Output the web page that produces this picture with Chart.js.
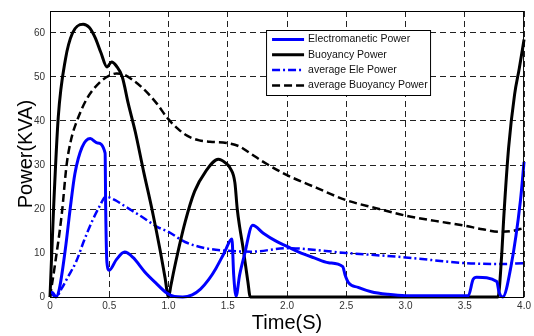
<!DOCTYPE html>
<html>
<head>
<meta charset="utf-8">
<script src="https://cdn.jsdelivr.net/npm/chart.js@4"></script>
<style>
  html, body { margin: 0; padding: 0; background: #fff; }
</style>
</head>
<body>
<canvas id="powerChart" width="534" height="336"></canvas>
<script>
// Electromagnetic power (solid blue)
const eleTime = [0, 0.02, 0.05, 0.08, 0.13, 0.17, 0.21, 0.27, 0.34, 0.40, 0.465, 0.47, 0.48, 0.50, 0.56, 0.63, 0.70, 0.80, 0.90, 0.985, 1.05, 1.12, 1.2, 1.27, 1.34, 1.40, 1.47, 1.535, 1.55, 1.57, 1.6, 1.64, 1.71, 1.8, 1.9, 2.0, 2.1, 2.23, 2.35, 2.47, 2.49, 2.52, 2.6, 2.71, 2.85, 3.0, 3.53, 3.57, 3.6, 3.77, 3.79, 3.82, 3.89, 3.97, 4.0];
const elePower = [1, 1, 0, 2, 11, 20, 28, 34, 36, 35, 32.7, 20, 8, 6.1, 8.5, 10.2, 9, 5.7, 3, 0.9, 0.1, 0, 0.5, 1.8, 4, 6.5, 10, 13.2, 5, 0.2, 5, 9.5, 16.3, 14.5, 12.8, 11.5, 10.2, 8.9, 7.8, 6.9, 5, 3.2, 2.2, 1.2, 0.6, 0.3, 0.3, 4, 4.5, 3.5, 1, 0, 7, 22, 30.7];

// Buoyancy power (solid black)
const buoyTime = [0, 0.03, 0.07, 0.13, 0.19, 0.28, 0.33, 0.38, 0.43, 0.48, 0.52, 0.56, 0.61, 0.66, 0.72, 0.79, 0.86, 0.93, 0.97, 1.0, 1.02, 1.05, 1.14, 1.22, 1.31, 1.42, 1.48, 1.52, 1.56, 1.58, 1.6, 1.63, 1.67, 1.69, 3.78, 3.81, 3.83, 3.87, 3.92, 3.96, 4.0];
const buoyPower = [0, 20, 41, 54, 60, 62, 61.3, 59, 55.5, 52.3, 53.4, 52.5, 50, 44, 37.5, 28.5, 20, 10.5, 4.5, 0, 2.6, 6.6, 17, 24, 28.4, 31.3, 30.5, 29.3, 26, 20, 16, 11, 3.4, 0, 0, 9, 18.6, 34, 46, 52, 58.5];

// average Ele power (blue dash-dot)
const avgEleTime = [0, 0.05, 0.1, 0.15, 0.22, 0.29, 0.36, 0.42, 0.47, 0.55, 0.61, 0.7, 0.8, 0.9, 1.0, 1.14, 1.31, 1.5, 1.7, 2.0, 2.5, 3.0, 3.5, 3.8, 4.0];
const avgElePower = [1, 0, 2, 4.5, 8, 13, 17.5, 20.7, 22.8, 22, 21, 19.5, 17.8, 16, 14.8, 12.5, 11.1, 10.5, 10.3, 11.1, 10, 9, 7.7, 7.5, 7.7];

// average Buoyancy power (black dashed)
const avgBuoyTime = [0, 0.04, 0.1, 0.14, 0.18, 0.22, 0.31, 0.42, 0.5, 0.56, 0.62, 0.7, 0.8, 0.9, 0.99, 1.08, 1.16, 1.26, 1.35, 1.49, 1.6, 1.67, 1.8, 2.0, 2.25, 2.5, 2.75, 3.0, 3.25, 3.5, 3.65, 3.8, 3.9, 4.0];
const avgBuoyPower = [0, 7, 19, 30, 36, 39.5, 45, 48.8, 50.3, 50.8, 50.6, 49.3, 47, 44, 40.7, 38.2, 36.6, 35.6, 35.3, 35, 34.2, 33, 30.7, 27.7, 24.8, 22, 20.2, 18.5, 17.3, 16.2, 15.4, 14.8, 15, 15.7];

const xTicks = [0, 0.5, 1, 1.5, 2, 2.5, 3, 3.5, 4];
const yTicks = [0, 10, 20, 30, 40, 50, 60];

const pairs = (xs, ys) => xs.map((x, i) => ({ x, y: ys[i] }));

// legend drawn inside the plot, like the MATLAB one
const insideLegend = {
  id: 'insideLegend',
  afterDraw(chart) {
    const { ctx, chartArea } = chart;
    // plot box
    ctx.save();
    ctx.strokeStyle = '#000';
    ctx.lineWidth = 1;
    ctx.strokeRect(chartArea.left + 0.5, chartArea.top + 0.5, chartArea.width - 1, chartArea.height);

    const x0 = chartArea.right - 258, y0 = chartArea.top + 19;
    ctx.fillStyle = '#fff';
    ctx.fillRect(x0, y0, 164, 65);
    ctx.strokeRect(x0 + 0.5, y0 + 0.5, 164, 65);
    ctx.font = '10.5px Arial, "Liberation Sans", sans-serif';
    ctx.textBaseline = 'middle';
    chart.data.datasets.forEach((ds, i) => {
      const y = y0 + 9.5 + i * 15.3;
      ctx.beginPath();
      ctx.setLineDash(ds.borderDash || []);
      ctx.strokeStyle = ds.borderColor;
      ctx.lineWidth = ds.borderWidth;
      ctx.moveTo(x0 + 6, y);
      ctx.lineTo(x0 + 38, y);
      ctx.stroke();
      ctx.setLineDash([]);
      ctx.fillStyle = '#111';
      ctx.fillText(ds.label, x0 + 42, y);
    });
    ctx.restore();
  }
};

new Chart(document.getElementById('powerChart'), {
  type: 'line',
  data: {
    datasets: [
      { label: 'Electromanetic Power', data: pairs(eleTime, elePower), borderColor: '#0000ff', borderWidth: 3 },
      { label: 'Buoyancy Power', data: pairs(buoyTime, buoyPower), borderColor: '#000', borderWidth: 3 },
      { label: 'average Ele Power', data: pairs(avgEleTime, avgElePower), borderColor: '#0000ff', borderWidth: 2.5, borderDash: [8, 3, 2, 3] },
      { label: 'average Buoyancy Power', data: pairs(avgBuoyTime, avgBuoyPower), borderColor: '#000', borderWidth: 2.5, borderDash: [8, 4] }
    ]
  },
  options: {
    responsive: false,
    animation: false,
    layout: { padding: { left: 0, right: 9, top: 11, bottom: 0 } },
    elements: {
      point: { radius: 0 },
      line: { cubicInterpolationMode: 'monotone', fill: false, borderJoinStyle: 'round' }
    },
    datasets: { line: { clip: 5 } },
    plugins: {
      legend: { display: false },
      tooltip: { enabled: false }
    },
    scales: {
      x: {
        type: 'linear',
        min: 0,
        max: 4,
        afterBuildTicks: s => { s.ticks = xTicks.map(v => ({ value: v })); },
        afterFit: s => { s.height = 39; },
        ticks: { color: '#333', font: { family: 'Arial', size: 10 }, padding: 3, maxRotation: 0 },
        grid: { color: '#222', lineWidth: 1, drawTicks: false },
        border: { display: false, dash: [6, 4] },
        title: { display: true, text: 'Time(S)', color: '#000', font: { family: 'Arial', size: 20 }, padding: { top: 0, bottom: 1 } }
      },
      y: {
        min: 0,
        max: 65,
        afterBuildTicks: s => { s.ticks = yTicks.map(v => ({ value: v })); },
        afterFit: s => { s.width = 50; },
        ticks: { color: '#333', font: { family: 'Arial', size: 10 }, padding: 5 },
        grid: { color: '#222', lineWidth: 1, drawTicks: false },
        border: { display: false, dash: [6, 4] },
        title: { display: true, text: 'Power(KVA)', color: '#000', font: { family: 'Arial', size: 20 }, padding: { top: 14, bottom: 0 } }
      }
    }
  },
  plugins: [insideLegend]
});
</script>
</body>
</html>
